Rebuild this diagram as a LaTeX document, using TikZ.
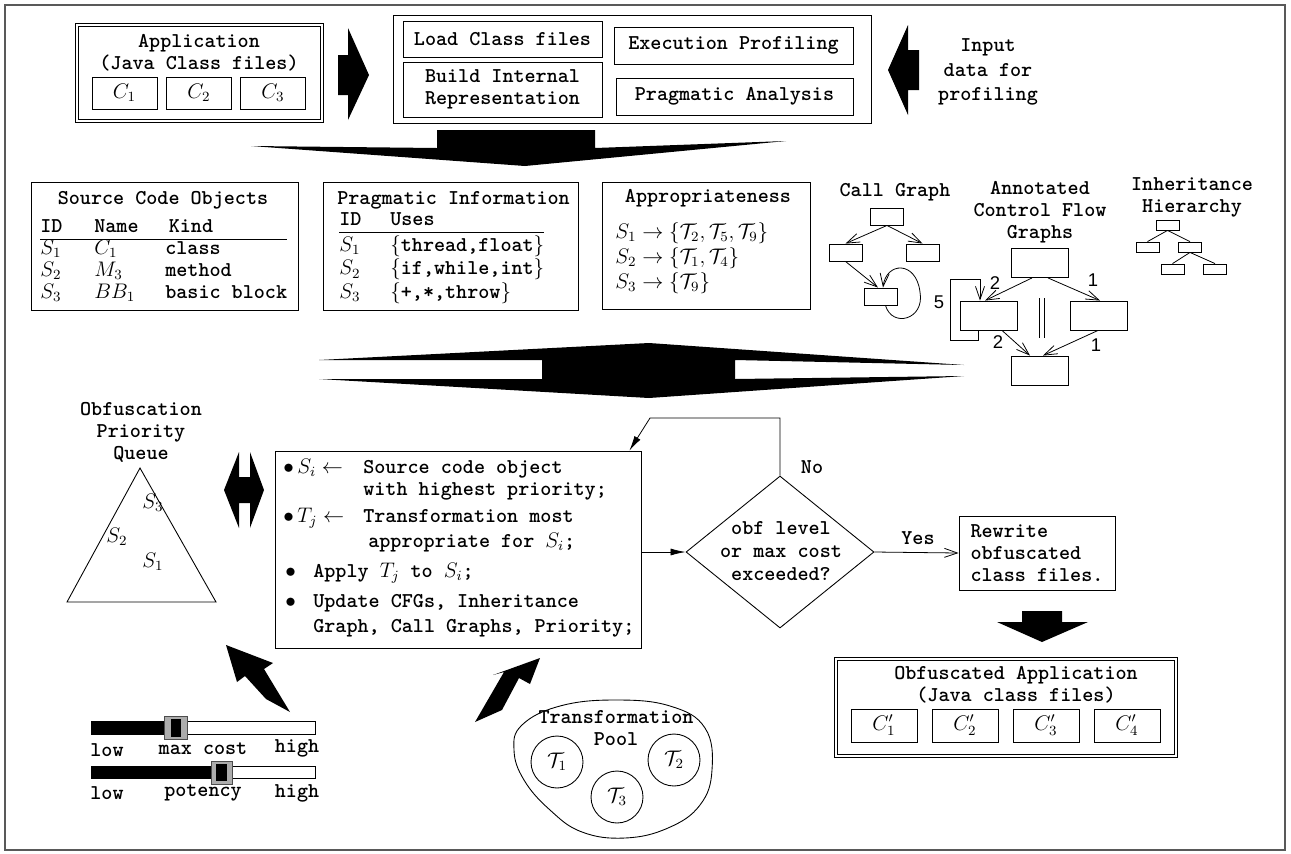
\documentclass[tikz,border=0pt]{standalone}
\usepackage{fontspec}
\usepackage{amsmath}
\usetikzlibrary{arrows.meta,shapes.geometric,positioning,calc}
\newfontfamily\helv{Liberation Sans}

\tikzset{
  lbl/.style={font=\fontsize{12}{12.5}\selectfont\ttfamily\bfseries, inner sep=0pt},
  box/.style={draw, line width=0.5pt, inner sep=0pt},
  dbox/.style={box, double, double distance=1.6pt},
  cbox/.style={box, minimum width=1.3cm, minimum height=0.64cm, font=\fontsize{12}{12.5}\selectfont},
  gbox/.style={box, minimum width=0.66cm, minimum height=0.34cm},
  fbox/.style={box, minimum width=1.14cm, minimum height=0.58cm},
  hbox/.style={box, minimum width=0.46cm, minimum height=0.2cm},
  tcirc/.style={draw, line width=0.5pt, circle, minimum size=1.04cm, inner sep=0pt, font=\fontsize{12}{12.5}\selectfont},
  num/.style={font=\helv\fontsize{10.5}{11}\selectfont, inner sep=0pt},
  barb/.style={-{Straight Barb[length=2.6mm,width=1.8mm]}, line width=0.45pt},
  solid head/.style={-{Latex[length=3mm,width=1.4mm]}, line width=0.45pt},
}

\begin{document}
\begin{tikzpicture}[x=0.02cm,y=-0.02cm]
\useasboundingbox (0,0) rectangle (1291,853);
\draw[line width=0.8pt, black!65] (5,5) rectangle (1285,850);

% --- input application
\node[dbox, minimum width=4.9cm, minimum height=1.92cm] (app) at (199.5,73) {};
\node[lbl, align=center] (apptitle) at (199,53) {Application\\ (Java Class files)};
\node[cbox] (c1) at (124.5,93) {$C_1$};
\node[cbox] (c2) at (199,93) {$C_2$};
\node[cbox] (c3) at (273,93) {$C_3$};
\fill (338,55) -- (348,55) -- (348,28) -- (369,75) -- (348,120) -- (348,95) -- (338,95) -- cycle;

% --- front end
\node[box, minimum width=9.56cm, minimum height=2.16cm] (front) at (632,69) {};
\node[box, lbl, minimum width=3.98cm, minimum height=0.72cm] (load) at (502.5,39) {Load Class files};
\node[box, lbl, align=center, minimum width=3.98cm, minimum height=1.1cm] (build) at (502.5,89.5) {Build Internal\\Representation};
\node[box, lbl, minimum width=4.78cm, minimum height=0.74cm] (exec) at (733.5,45.5) {Execution Profiling};
\node[box, lbl, minimum width=4.74cm, minimum height=0.74cm] (prag) at (734.5,96.5) {Pragmatic Analysis};
\fill (888,70) -- (908,25) -- (908,50) -- (919,50) -- (919,90) -- (908,90) -- (908,115) -- cycle;
\node[lbl, align=center, font=\fontsize{12}{14}\selectfont\ttfamily\bfseries] (input) at (988,72) {Input\\data for\\profiling};
\fill (437,130) -- (595,130) -- (595,148) -- (786,141) -- (525,166) -- (251,146) -- (437,148) -- cycle;

% --- tables
\node[box, minimum width=5.34cm, minimum height=2.56cm] (src) at (164.5,246) {};
\node[lbl] (srctitle) at (163,200) {Source Code Objects};
\node[lbl, anchor=base west] (srctab) at (40,232) {\begin{tabular}[t]{@{}p{1.08cm}@{}p{1.42cm}@{}l@{}}
ID & Name & \,Kind\\ \hline
$S_1$ & $C_1$ & class\\
$S_2$ & $M_3$ & method\\
$S_3$ & $BB_1$ & basic block
\end{tabular}};

\node[box, minimum width=5.1cm, minimum height=2.56cm] (pinfo) at (450.5,246) {};
\node[lbl, anchor=west] (pinfotitle) at (337,200) {Pragmatic Information};
\node[lbl, anchor=base west] (pinfotab) at (339,225) {\begin{tabular}[t]{@{}p{1.02cm}@{}l@{}}
ID & Uses\\ \hline
\noalign{\vskip 2pt}
$S_1$ & $\{$thread,float$\}$\\[0.5pt]
$S_2$ & $\{$if,while,int$\}$\\[0.5pt]
$S_3$ & $\{$+,*,throw$\}$
\end{tabular}};

\node[box, minimum width=4.16cm, minimum height=2.54cm] (appr) at (706,245.5) {};
\node[lbl] (apprtitle) at (708,198) {Appropriateness};
\node[lbl, anchor=base west] (apprtab) at (615,238) {\begin{tabular}[t]{@{}l@{}}
$S_1\rightarrow\{\mathcal{T}_2,\mathcal{T}_5,\mathcal{T}_9\}$\\[1.5pt]
$S_2\rightarrow\{\mathcal{T}_1,\mathcal{T}_4\}$\\[1.5pt]
$S_3\rightarrow\{\mathcal{T}_9\}$
\end{tabular}};

% --- call graph
\node[lbl] (cgtitle) at (895,192) {Call Graph};
\node[gbox] (cgA) at (887,216.5) {};
\node[gbox] (cgB) at (845.5,252.5) {};
\node[gbox] (cgC) at (922.5,252.5) {};
\node[gbox] (cgD) at (880.5,296.5) {};
\draw[barb] (cgA.south) -- (cgB.north);
\draw[barb] (cgA.south) -- (cgC.north);
\draw[barb] (cgB.south) -- ([xshift=-0.05cm]cgD.north);
\draw[barb] ([xshift=0.1cm]cgD.south) .. controls (892,328) and (925,320) .. (920,292) .. controls (916,260) and (886,262) .. ([xshift=0.05cm]cgD.north);

% --- control flow graph
\node[lbl, align=center] (cfgtitle) at (1040,212) {Annotated\\Control Flow\\Graphs};
\node[fbox] (cfgA) at (1039.5,263) {};
\node[fbox] (cfgB) at (988.5,315.5) {};
\node[fbox] (cfgC) at (1099,315.5) {};
\node[fbox] (cfgD) at (1039.5,370.5) {};
\draw[barb] ([xshift=-0.15cm]cfgA.south) -- ([xshift=-0.07cm]cfgB.north);
\draw[barb] ([xshift=0.17cm]cfgA.south) -- ([xshift=0.02cm]cfgC.north);
\draw[barb] ([xshift=0.27cm]cfgB.south) -- ([xshift=-0.19cm]cfgD.north);
\draw[barb] ([xshift=-0.02cm]cfgC.south) -- ([xshift=0.07cm]cfgD.north);
\draw[barb] ([xshift=-0.21cm]cfgB.south) -- ++(0,10) -| (950,279) -| ([xshift=-0.17cm]cfgB.north);
\draw[line width=0.45pt] (1039,298) -- (1039,338) (1044,298) -- (1044,338);
\node[num] (w1) at (995,283) {2};
\node[num] (w2) at (1093,280) {1};
\node[num] (w3) at (998,342) {2};
\node[num] (w4) at (1096,345) {1};
\node[num] (w5) at (939,302) {5};

% --- inheritance
\node[lbl, align=center] (ihtitle) at (1192,197.5) {Inheritance\\Hierarchy};
\node[hbox] (ihA) at (1167.5,225) {};
\node[hbox] (ihB) at (1147.5,247) {};
\node[hbox] (ihC) at (1190,247) {};
\node[hbox] (ihD) at (1172.5,269) {};
\node[hbox] (ihE) at (1215,269) {};
\draw[line width=0.45pt] (ihA.south) -- (ihB.north) (ihA.south) -- (ihC.north)
  (ihC.south) -- (ihD.north) (ihC.south) -- (ihE.north);

% --- big double arrow
\fill (319,360) -- (649,343) -- (964,365) -- (735,360) -- (735,379) -- (964,376) -- (649,398)
  -- (319,379) -- (542,379) -- (542,360) -- cycle;

% --- priority queue
\node[lbl, align=center] (pqtitle) at (141,432) {Obfuscation\\Priority\\Queue};
\draw[line width=0.5pt] (140,468) -- (216,602) -- (67,602) -- cycle;
\node[font=\fontsize{12}{12.5}\selectfont, inner sep=0pt] (q3) at (153,503) {$S_3$};
\node[font=\fontsize{12}{12.5}\selectfont, inner sep=0pt] (q2) at (117,537) {$S_2$};
\node[font=\fontsize{12}{12.5}\selectfont, inner sep=0pt] (q1) at (153,562) {$S_1$};
\fill (224,490) -- (239,452) -- (239,477) -- (250,477) -- (250,452) -- (264,490) -- (250,528)
  -- (250,503) -- (239,503) -- (239,528) -- cycle;

% --- main loop
\node[box, minimum width=7.32cm, minimum height=3.94cm] (proc) at (458,549.5) {};
\node[lbl, anchor=base west] (p1) at (283,473) {\makebox[1.6cm][l]{$\bullet\,S_i\leftarrow$}Source code object};
\node[lbl, anchor=base west] (p2) at (283,495) {\hspace{1.6cm}with highest priority;};
\node[lbl, anchor=base west] (p3) at (283,522) {\makebox[1.6cm][l]{$\bullet\,T_j\leftarrow$}Transformation most};
\node[lbl, anchor=base west] (p4) at (283,547) {\hspace{1.7cm}appropriate for $S_i$;};
\node[lbl, anchor=base west] (p5) at (285,577) {\makebox[0.56cm][l]{$\bullet$}Apply $T_j$ to $S_i$;};
\node[lbl, anchor=base west] (p6) at (285,607) {\makebox[0.56cm][l]{$\bullet$}Update CFGs, Inheritance};
\node[lbl, anchor=base west] (p7) at (285,632) {\hspace{0.56cm}Graph, Call Graphs, Priority;};

\node[draw, line width=0.5pt, diamond, minimum width=3.76cm, minimum height=3.04cm, inner sep=0pt] (cond) at (780,552) {};
\node[lbl, align=center, font=\fontsize{12}{13}\selectfont\ttfamily\bfseries] (condtxt) at (781,551) {obf level\\or max cost\\exceeded?};
\draw[solid head] (proc.east |- cond.west) -- (cond.west);
\draw[solid head] (cond.north) |- (650,418) -- ([xshift=-0.24cm]proc.north east);
\node[lbl] (no) at (812,467) {No};

\node[box, lbl, align=left, minimum width=3.12cm, minimum height=1.48cm] (rewrite) at (1037,553) {Rewrite\\obfuscated\\class files.};
\draw[barb] (cond.east) -- (rewrite.west);
\node[lbl] (yes) at (918,538) {Yes};
\fill (1022,611) -- (1062,611) -- (1062,622) -- (1088,622) -- (1042,642) -- (997,622) -- (1022,622) -- cycle;

% --- output application
\node[dbox, minimum width=6.8cm, minimum height=1.94cm] (oapp) at (1006,707.5) {};
\node[lbl, align=center] (oapptitle) at (1016,685) {Obfuscated Application\\(Java class files)};
\node[cbox, minimum width=1.32cm, minimum height=0.66cm] (d1) at (884,725.5) {$C_1'$};
\node[cbox, minimum width=1.32cm, minimum height=0.66cm] (d2) at (965,725.5) {$C_2'$};
\node[cbox, minimum width=1.32cm, minimum height=0.66cm] (d3) at (1046,725.5) {$C_3'$};
\node[cbox, minimum width=1.32cm, minimum height=0.66cm] (d4) at (1127,725.5) {$C_4'$};

% --- sliders
\draw[line width=0.5pt] (91,721) rectangle (315,734);
\fill (91,721) rectangle (165,734);
\draw[fill=gray!65, draw=black!70] (164,716) rectangle (187,739);
\fill (171,719) rectangle (181,737);
\node[lbl] (lo1) at (107,750) {low};
\node[lbl] (mc) at (203,749) {max cost};
\node[lbl] (hi1) at (297,748) {high};
\draw[line width=0.5pt] (91,766) rectangle (315,778);
\fill (91,766) rectangle (213,778);
\draw[fill=gray!65, draw=black!70] (211,761) rectangle (232,784);
\fill (216,764) rectangle (227,781);
\node[lbl] (lo2) at (107,793) {low};
\node[lbl] (pot) at (203,793) {potency};
\node[lbl] (hi2) at (297,793) {high};
\fill (226,645) -- (273,663) -- (264,669) -- (290,712) -- (266,699) -- (245,676) -- (237,682) -- cycle;

% --- transformation pool
\draw[line width=0.5pt] plot[smooth cycle, tension=0.7] coordinates {(522,725) (560,706) (615,700) (670,706) (705,728) (712,770) (700,805) (668,828) (625,838) (582,832) (550,810) (524,780) (514,750)};
\node[lbl, align=center] (pooltitle) at (616,728) {Transformation\\Pool};
\node[tcirc] (t1) at (557,762) {$\mathcal{T}_1$};
\node[tcirc] (t2) at (674,760) {$\mathcal{T}_2$};
\node[tcirc] (t3) at (617,797) {$\mathcal{T}_3$};
\fill (540,658) -- (530,684) -- (519,678) -- (502,710) -- (475,722) -- (504,672) -- (493,675) -- cycle;
\end{tikzpicture}
\end{document}
